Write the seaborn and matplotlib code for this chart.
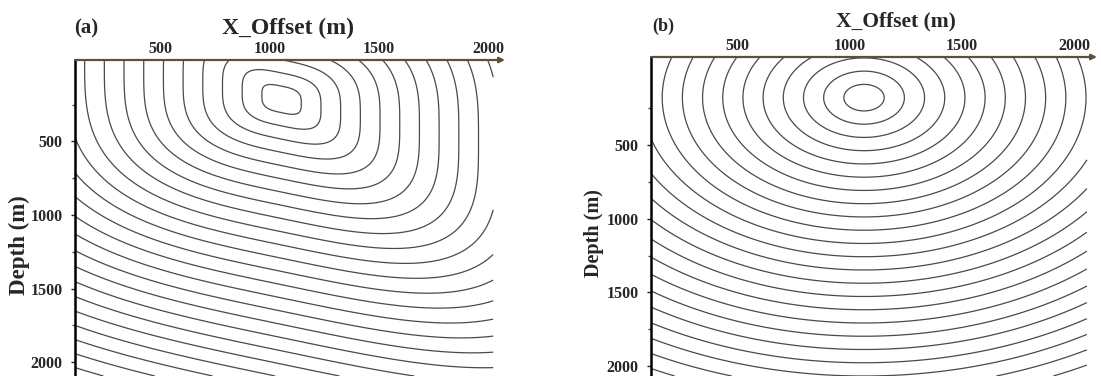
import matplotlib
matplotlib.use("Agg")
import matplotlib.pyplot as plt
import seaborn as sns
import numpy as np

# model / survey values
src_a = (1056, 214)            # source (x, depth) in panel a
src_b = (1064, 177)            # source (x, depth) in panel b
shear_a = 0.31                 # tilt of the wavefronts in panel a
power_a = 3.3                  # squareness of the wavefronts in panel a
velocity = 2000.0              # m/s
dt = 0.045                     # s between isochrons
x_ticks = [500, 1000, 1500, 2000]
y_ticks = [500, 1000, 1500, 2000]

sns.set_theme(style="white")
plt.rcParams["font.family"] = ["Liberation Serif", "DejaVu Serif"]
plt.rcParams["font.weight"] = "bold"

W, H = 1101, 376
fig = plt.figure(figsize=(W / 100, H / 100), dpi=100)


def px_axes(left, right, top, bottom=376):
    return fig.add_axes([left / W, 1 - bottom / H, (right - left) / W, (bottom - top) / H])


def traveltime_a(X, Z):
    u = X - src_a[0]
    w = (Z - src_a[1]) - shear_a * u
    r = (np.abs(u) ** power_a + np.abs(w) ** power_a) ** (1 / power_a)
    return r / velocity


def traveltime_b(X, Z):
    r = np.hypot(X - src_b[0], Z - src_b[1])
    return r / velocity


def draw_panel(ax, field, xlim, ylim, xr, tick_fs):
    x = np.linspace(xr[0], xr[1], 700)
    z = np.linspace(ylim[1], ylim[0], 700)
    X, Z = np.meshgrid(x, z)
    T = field(X, Z)
    levels = np.arange(dt, T.max(), dt)
    ax.contour(X, Z, T, levels=levels, colors="#4a4a4a", linewidths=0.9)
    ax.set_xlim(*xlim)
    ax.set_ylim(*ylim)
    ax.xaxis.tick_top()
    ax.set_xticks(x_ticks)
    ax.set_yticks(y_ticks)
    ax.set_yticks(np.arange(250, 2100, 250), minor=True)
    ax.tick_params(axis="x", length=0, pad=2, labelsize=tick_fs)
    ax.tick_params(axis="y", which="major", length=3, width=1, pad=6,
                   labelsize=tick_fs, left=True, color="#222222")
    ax.tick_params(axis="y", which="minor", length=2, width=1, left=True, color="#444444")
    for s in ["right", "bottom", "top"]:
        ax.spines[s].set_visible(False)
    ax.spines["left"].set_color("black")
    ax.spines["left"].set_linewidth(1.8)
    ax.annotate("", xy=(1, 1), xytext=(0, 1), xycoords="axes fraction",
                arrowprops=dict(arrowstyle="-|>", color="#5e5040", lw=1.6,
                                mutation_scale=8, shrinkA=0, shrinkB=0))
    for lab in ax.get_xticklabels() + ax.get_yticklabels():
        lab.set_fontweight("bold")


# panel (a)
ax_a = px_axes(75, 505, 60)
draw_panel(ax_a, traveltime_a, (112, 2077), (2095, -54), (112, 2023), 11.5)

# panel (b)
ax_b = px_axes(651, 1097, 57)
draw_panel(ax_b, traveltime_b, (114, 2103), (2067, -99), (114, 2058), 11.5)

fig.text(86 / W, 1 - 28 / H, "(a)", fontsize=15, fontweight="bold", ha="center", va="center")
fig.text(288 / W, 1 - 28 / H, "X_Offset (m)", fontsize=17, fontweight="bold", ha="center", va="center")
fig.text(19 / W, 1 - 245 / H, "Depth (m)", fontsize=16.5, fontweight="bold", ha="center",
         va="center", rotation=90)

fig.text(663 / W, 1 - 26 / H, "(b)", fontsize=13, fontweight="bold", ha="center", va="center")
fig.text(896 / W, 1 - 21 / H, "X_Offset (m)", fontsize=15.5, fontweight="bold", ha="center", va="center")
fig.text(594 / W, 1 - 233 / H, "Depth (m)", fontsize=14.5, fontweight="bold", ha="center",
         va="center", rotation=90)

fig.savefig("out.png", dpi=100, facecolor="white")
